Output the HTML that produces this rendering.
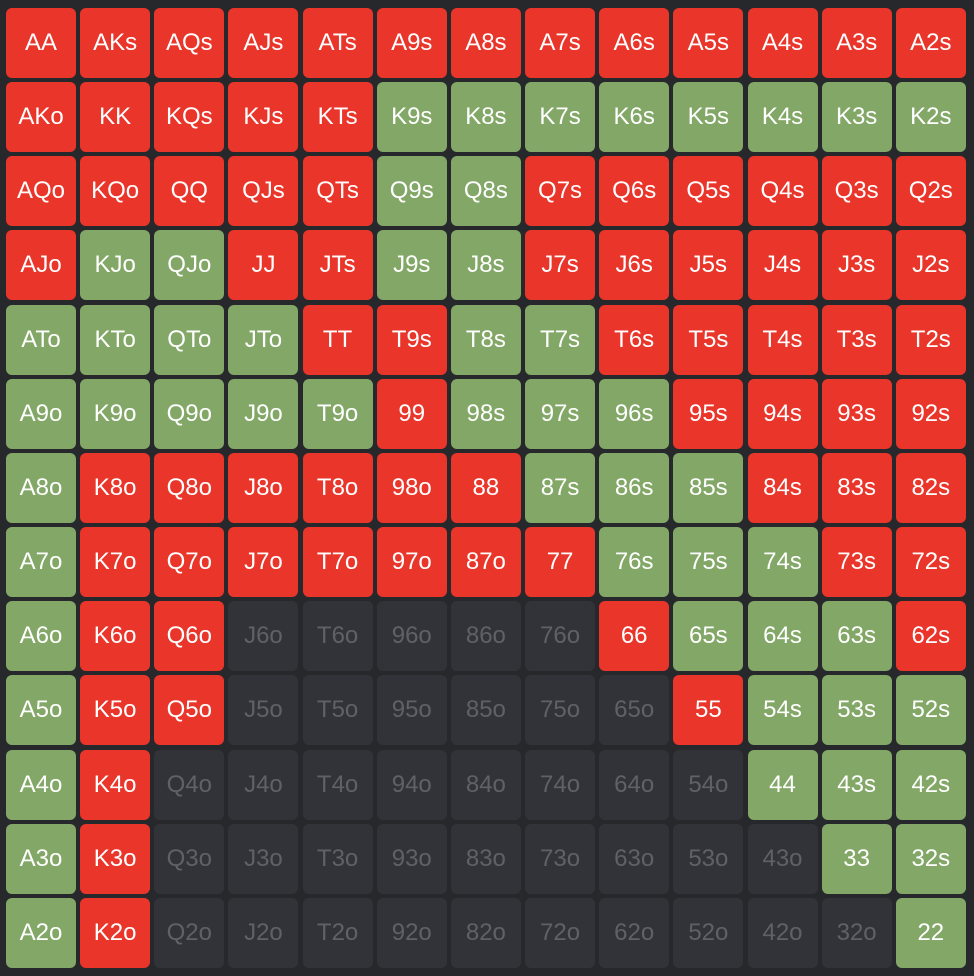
<!DOCTYPE html>
<html><head><meta charset="utf-8"><style>
html,body{margin:0;padding:0;background:#27282c;width:974px;height:976px;overflow:hidden}
#grid{position:absolute;left:0;top:0;width:974px;height:976px}
.cell{position:absolute;width:70px;height:70px;border-radius:6px;display:flex;align-items:center;justify-content:center;font-family:"Liberation Sans",sans-serif;font-size:24px;color:#fff;cursor:pointer}
.R{background:#e9352a}
.G{background:#82a766}
.D{background:#323338;color:#606167}
</style></head><body>
<div id="grid"></div>
<script>
const ranks=["A","K","Q","J","T","9","8","7","6","5","4","3","2"];
const actions=[
"RRRRRRRRRRRRR",
"RRRRRGGGGGGGG",
"RRRRRGGRRRRRR",
"RGGRRGGRRRRRR",
"GGGGRRGGRRRRR",
"GGGGGRGGGRRRR",
"GRRRRRRGGGRRR",
"GRRRRRRRGGGRR",
"GRRDDDDDRGGGR",
"GRRDDDDDDRGGG",
"GRDDDDDDDDGGG",
"GRDDDDDDDDDGG",
"GRDDDDDDDDDDG"
];
const grid=document.getElementById('grid');
const pitch=74.15, x0=6, y0=8;
for(let r=0;r<13;r++){for(let c=0;c<13;c++){
  let label;
  if(r===c) label=ranks[r]+ranks[c];
  else if(c>r) label=ranks[r]+ranks[c]+"s";
  else label=ranks[c]+ranks[r]+"o";
  const el=document.createElement('div');
  el.className='cell '+actions[r][c];
  el.style.left=(x0+c*pitch)+'px';
  el.style.top=(y0+r*pitch)+'px';
  el.textContent=label;
  
  
  grid.appendChild(el);
}}
</script>
</body></html>
